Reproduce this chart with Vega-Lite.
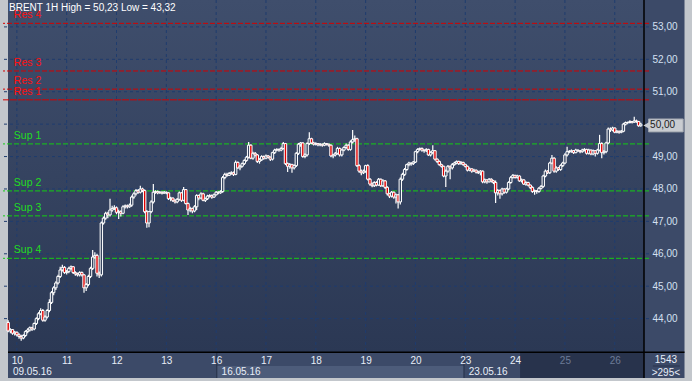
{
"$schema": "https://vega.github.io/schema/vega-lite/v6.json",
"width": 646, "height": 352,
"autosize": {"type": "none"},
"padding": {"left": 3, "right": 43, "top": 0, "bottom": 29},
"background": "#c3c7cc",
"config": {"view": {"stroke": null}, "text": {"font": "Liberation Sans"}},
"datasets": {
"candles": [
{"t":0,"o":43.88,"h":43.95,"l":43.58,"c":43.62},{"t":1,"o":43.62,"h":43.70,"l":43.55,"c":43.66},{"t":2,"o":43.66,"h":43.68,"l":43.50,"c":43.55},{"t":3,"o":43.55,"h":43.62,"l":43.48,"c":43.58},{"t":4,"o":43.58,"h":43.60,"l":43.45,"c":43.50},{"t":5,"o":43.50,"h":43.55,"l":43.38,"c":43.45},{"t":6,"o":43.45,"h":43.50,"l":43.32,"c":43.40},{"t":7,"o":43.40,"h":43.52,"l":43.36,"c":43.48},{"t":8,"o":43.48,"h":43.64,"l":43.44,"c":43.60},{"t":9,"o":43.60,"h":43.70,"l":43.55,"c":43.65},
{"t":10,"o":43.65,"h":43.76,"l":43.60,"c":43.72},{"t":11,"o":43.72,"h":43.75,"l":43.62,"c":43.68},{"t":12,"o":43.68,"h":43.88,"l":43.64,"c":43.85},{"t":13,"o":43.85,"h":44.04,"l":43.80,"c":44.00},{"t":14,"o":44.00,"h":44.20,"l":43.95,"c":44.15},{"t":15,"o":44.15,"h":44.32,"l":44.10,"c":44.25},{"t":16,"o":44.25,"h":44.30,"l":43.90,"c":43.95},{"t":17,"o":43.95,"h":44.10,"l":43.90,"c":44.05},{"t":18,"o":44.05,"h":44.30,"l":44.00,"c":44.25},{"t":19,"o":44.25,"h":44.60,"l":44.20,"c":44.50},
{"t":20,"o":44.50,"h":44.85,"l":44.45,"c":44.80},{"t":21,"o":44.80,"h":45.00,"l":44.72,"c":44.95},{"t":22,"o":44.95,"h":45.15,"l":44.88,"c":45.10},{"t":23,"o":45.10,"h":45.35,"l":45.05,"c":45.30},{"t":24,"o":45.30,"h":45.60,"l":45.25,"c":45.50},{"t":25,"o":45.50,"h":45.66,"l":45.45,"c":45.58},{"t":26,"o":45.58,"h":45.62,"l":45.38,"c":45.42},{"t":27,"o":45.42,"h":45.50,"l":45.36,"c":45.45},{"t":28,"o":45.45,"h":45.60,"l":45.40,"c":45.55},{"t":29,"o":45.55,"h":45.64,"l":45.50,"c":45.60},
{"t":30,"o":45.60,"h":45.62,"l":45.38,"c":45.42},{"t":31,"o":45.42,"h":45.46,"l":45.32,"c":45.38},{"t":32,"o":45.38,"h":45.42,"l":45.30,"c":45.35},{"t":33,"o":45.35,"h":45.46,"l":45.30,"c":45.42},{"t":34,"o":45.42,"h":45.45,"l":45.30,"c":45.35},{"t":35,"o":45.35,"h":45.38,"l":44.80,"c":44.95},{"t":36,"o":44.95,"h":45.10,"l":44.85,"c":45.05},{"t":37,"o":45.05,"h":45.35,"l":45.00,"c":45.30},{"t":38,"o":45.30,"h":45.60,"l":45.25,"c":45.55},{"t":39,"o":45.55,"h":46.12,"l":45.50,"c":45.90},
{"t":40,"o":45.90,"h":46.05,"l":45.85,"c":45.95},{"t":41,"o":45.95,"h":46.00,"l":45.30,"c":45.40},{"t":42,"o":45.40,"h":45.45,"l":45.25,"c":45.35},{"t":43,"o":45.35,"h":47.00,"l":45.30,"c":46.95},{"t":44,"o":46.95,"h":47.15,"l":46.90,"c":47.10},{"t":45,"o":47.10,"h":47.30,"l":47.05,"c":47.25},{"t":46,"o":47.25,"h":47.30,"l":47.10,"c":47.20},{"t":47,"o":47.20,"h":47.70,"l":47.15,"c":47.35},{"t":48,"o":47.35,"h":47.48,"l":47.30,"c":47.40},{"t":49,"o":47.40,"h":47.50,"l":47.35,"c":47.42},
{"t":50,"o":47.42,"h":47.46,"l":47.22,"c":47.28},{"t":51,"o":47.28,"h":47.36,"l":47.07,"c":47.30},{"t":52,"o":47.30,"h":47.34,"l":47.15,"c":47.25},{"t":53,"o":47.25,"h":47.50,"l":47.22,"c":47.45},{"t":54,"o":47.45,"h":47.52,"l":47.40,"c":47.48},{"t":55,"o":47.48,"h":47.52,"l":47.40,"c":47.45},{"t":56,"o":47.45,"h":47.55,"l":47.42,"c":47.50},{"t":57,"o":47.50,"h":47.80,"l":47.45,"c":47.75},{"t":58,"o":47.75,"h":47.90,"l":47.70,"c":47.85},{"t":59,"o":47.85,"h":48.00,"l":47.80,"c":47.95},
{"t":60,"o":47.95,"h":48.00,"l":47.85,"c":47.90},{"t":61,"o":47.90,"h":48.10,"l":47.86,"c":48.00},{"t":62,"o":48.00,"h":48.04,"l":47.90,"c":47.95},{"t":63,"o":47.95,"h":47.98,"l":47.25,"c":47.30},{"t":64,"o":47.30,"h":47.35,"l":46.80,"c":46.95},{"t":65,"o":46.95,"h":47.32,"l":46.82,"c":47.30},{"t":66,"o":47.30,"h":47.65,"l":47.25,"c":47.60},{"t":67,"o":47.60,"h":48.15,"l":47.55,"c":47.90},{"t":68,"o":47.90,"h":47.96,"l":47.85,"c":47.92},{"t":69,"o":47.92,"h":47.95,"l":47.84,"c":47.88},
{"t":70,"o":47.88,"h":47.94,"l":47.85,"c":47.90},{"t":71,"o":47.90,"h":47.93,"l":47.83,"c":47.87},{"t":72,"o":47.87,"h":47.94,"l":47.85,"c":47.90},{"t":73,"o":47.90,"h":47.92,"l":47.84,"c":47.88},{"t":74,"o":47.88,"h":47.90,"l":47.66,"c":47.70},{"t":75,"o":47.70,"h":47.76,"l":47.62,"c":47.72},{"t":76,"o":47.72,"h":47.74,"l":47.60,"c":47.65},{"t":77,"o":47.65,"h":47.68,"l":47.55,"c":47.60},{"t":78,"o":47.60,"h":47.72,"l":47.56,"c":47.68},{"t":79,"o":47.68,"h":47.92,"l":47.64,"c":47.88},
{"t":80,"o":47.88,"h":47.90,"l":47.60,"c":47.65},{"t":81,"o":47.65,"h":48.06,"l":47.62,"c":47.98},{"t":82,"o":47.98,"h":48.00,"l":47.52,"c":47.55},{"t":83,"o":47.55,"h":47.58,"l":47.20,"c":47.35},{"t":84,"o":47.35,"h":47.45,"l":47.28,"c":47.40},{"t":85,"o":47.40,"h":47.42,"l":47.25,"c":47.32},{"t":86,"o":47.32,"h":47.50,"l":47.28,"c":47.45},{"t":87,"o":47.45,"h":47.84,"l":47.35,"c":47.80},{"t":88,"o":47.80,"h":47.82,"l":47.65,"c":47.72},{"t":89,"o":47.72,"h":47.90,"l":47.68,"c":47.85},
{"t":90,"o":47.85,"h":47.88,"l":47.62,"c":47.65},{"t":91,"o":47.65,"h":47.74,"l":47.60,"c":47.70},{"t":92,"o":47.70,"h":47.82,"l":47.66,"c":47.78},{"t":93,"o":47.78,"h":47.84,"l":47.74,"c":47.80},{"t":94,"o":47.80,"h":47.83,"l":47.70,"c":47.75},{"t":95,"o":47.75,"h":47.86,"l":47.72,"c":47.82},{"t":96,"o":47.82,"h":47.94,"l":47.80,"c":47.90},{"t":97,"o":47.90,"h":47.93,"l":47.84,"c":47.88},{"t":98,"o":47.88,"h":47.96,"l":47.85,"c":47.92},{"t":99,"o":47.92,"h":48.40,"l":47.88,"c":48.35},
{"t":100,"o":48.35,"h":48.50,"l":48.30,"c":48.45},{"t":101,"o":48.45,"h":48.50,"l":48.38,"c":48.42},{"t":102,"o":48.42,"h":48.52,"l":48.40,"c":48.48},{"t":103,"o":48.48,"h":48.55,"l":48.44,"c":48.50},{"t":104,"o":48.50,"h":48.54,"l":48.40,"c":48.45},{"t":105,"o":48.45,"h":48.88,"l":48.42,"c":48.82},{"t":106,"o":48.82,"h":48.85,"l":48.62,"c":48.65},{"t":107,"o":48.65,"h":48.74,"l":48.58,"c":48.70},{"t":108,"o":48.70,"h":48.82,"l":48.66,"c":48.78},{"t":109,"o":48.78,"h":48.92,"l":48.74,"c":48.88},
{"t":110,"o":48.88,"h":49.02,"l":48.84,"c":48.98},{"t":111,"o":48.98,"h":49.45,"l":48.94,"c":49.35},{"t":112,"o":49.35,"h":49.38,"l":48.92,"c":48.95},{"t":113,"o":48.95,"h":49.15,"l":48.90,"c":49.10},{"t":114,"o":49.10,"h":49.14,"l":49.00,"c":49.05},{"t":115,"o":49.05,"h":49.08,"l":48.80,"c":48.85},{"t":116,"o":48.85,"h":48.95,"l":48.78,"c":48.90},{"t":117,"o":48.90,"h":49.04,"l":48.86,"c":49.00},{"t":118,"o":49.00,"h":49.03,"l":48.90,"c":48.95},{"t":119,"o":48.95,"h":49.06,"l":48.92,"c":49.02},
{"t":120,"o":49.02,"h":49.05,"l":48.94,"c":48.98},{"t":121,"o":48.98,"h":49.00,"l":48.86,"c":48.92},{"t":122,"o":48.92,"h":49.15,"l":48.88,"c":49.12},{"t":123,"o":49.12,"h":49.24,"l":49.08,"c":49.20},{"t":124,"o":49.20,"h":49.26,"l":49.16,"c":49.22},{"t":125,"o":49.22,"h":49.25,"l":49.15,"c":49.20},{"t":126,"o":49.20,"h":49.30,"l":49.16,"c":49.25},{"t":127,"o":49.25,"h":49.45,"l":49.22,"c":49.40},{"t":128,"o":49.40,"h":49.42,"l":48.74,"c":48.78},{"t":129,"o":48.78,"h":48.82,"l":48.52,"c":48.70},
{"t":130,"o":48.70,"h":48.80,"l":48.62,"c":48.75},{"t":131,"o":48.75,"h":48.78,"l":48.50,"c":48.65},{"t":132,"o":48.65,"h":48.76,"l":48.60,"c":48.72},{"t":133,"o":48.72,"h":49.14,"l":48.68,"c":49.10},{"t":134,"o":49.10,"h":49.42,"l":49.05,"c":49.38},{"t":135,"o":49.38,"h":49.45,"l":49.30,"c":49.42},{"t":136,"o":49.42,"h":49.44,"l":48.96,"c":49.00},{"t":137,"o":49.00,"h":49.10,"l":48.95,"c":49.05},{"t":138,"o":49.05,"h":49.44,"l":49.00,"c":49.40},{"t":139,"o":49.40,"h":49.75,"l":49.36,"c":49.55},
{"t":140,"o":49.55,"h":49.58,"l":49.38,"c":49.42},{"t":141,"o":49.42,"h":49.46,"l":49.34,"c":49.38},{"t":142,"o":49.38,"h":49.44,"l":49.34,"c":49.40},{"t":143,"o":49.40,"h":49.42,"l":49.32,"c":49.36},{"t":144,"o":49.36,"h":49.42,"l":49.32,"c":49.38},{"t":145,"o":49.38,"h":49.40,"l":49.30,"c":49.35},{"t":146,"o":49.35,"h":49.44,"l":49.32,"c":49.40},{"t":147,"o":49.40,"h":49.42,"l":49.34,"c":49.38},{"t":148,"o":49.38,"h":49.40,"l":49.30,"c":49.35},{"t":149,"o":49.35,"h":49.37,"l":48.98,"c":49.02},
{"t":150,"o":49.02,"h":49.08,"l":48.95,"c":49.05},{"t":151,"o":49.05,"h":49.14,"l":49.00,"c":49.10},{"t":152,"o":49.10,"h":49.30,"l":49.06,"c":49.25},{"t":153,"o":49.25,"h":49.28,"l":49.00,"c":49.05},{"t":154,"o":49.05,"h":49.24,"l":49.00,"c":49.20},{"t":155,"o":49.20,"h":49.32,"l":49.16,"c":49.28},{"t":156,"o":49.28,"h":49.40,"l":49.24,"c":49.35},{"t":157,"o":49.35,"h":49.38,"l":49.18,"c":49.22},{"t":158,"o":49.22,"h":49.50,"l":49.18,"c":49.45},{"t":159,"o":49.45,"h":49.82,"l":49.40,"c":49.52},
{"t":160,"o":49.52,"h":49.65,"l":49.46,"c":49.55},{"t":161,"o":49.55,"h":49.58,"l":48.68,"c":48.72},{"t":162,"o":48.72,"h":48.76,"l":48.50,"c":48.55},{"t":163,"o":48.55,"h":48.60,"l":48.42,"c":48.50},{"t":164,"o":48.50,"h":48.60,"l":48.46,"c":48.55},{"t":165,"o":48.55,"h":48.75,"l":48.50,"c":48.72},{"t":166,"o":48.72,"h":48.76,"l":48.26,"c":48.30},{"t":167,"o":48.30,"h":48.34,"l":48.10,"c":48.15},{"t":168,"o":48.15,"h":48.20,"l":48.05,"c":48.10},{"t":169,"o":48.10,"h":48.24,"l":48.06,"c":48.20},
{"t":170,"o":48.20,"h":48.24,"l":48.08,"c":48.12},{"t":171,"o":48.12,"h":48.34,"l":48.10,"c":48.30},{"t":172,"o":48.30,"h":48.32,"l":48.06,"c":48.10},{"t":173,"o":48.10,"h":48.30,"l":48.06,"c":48.25},{"t":174,"o":48.25,"h":48.28,"l":48.00,"c":48.05},{"t":175,"o":48.05,"h":48.08,"l":47.80,"c":47.85},{"t":176,"o":47.85,"h":47.88,"l":47.72,"c":47.78},{"t":177,"o":47.78,"h":47.94,"l":47.74,"c":47.90},{"t":178,"o":47.90,"h":47.92,"l":47.70,"c":47.75},{"t":179,"o":47.75,"h":47.86,"l":47.55,"c":47.82},
{"t":180,"o":47.82,"h":47.84,"l":47.40,"c":47.60},{"t":181,"o":47.60,"h":48.35,"l":47.52,"c":48.30},{"t":182,"o":48.30,"h":48.50,"l":48.25,"c":48.45},{"t":183,"o":48.45,"h":48.65,"l":48.40,"c":48.60},{"t":184,"o":48.60,"h":48.78,"l":48.56,"c":48.75},{"t":185,"o":48.75,"h":48.84,"l":48.70,"c":48.80},{"t":186,"o":48.80,"h":48.82,"l":48.72,"c":48.78},{"t":187,"o":48.78,"h":48.86,"l":48.74,"c":48.83},{"t":188,"o":48.83,"h":49.18,"l":48.80,"c":49.15},{"t":189,"o":49.15,"h":49.26,"l":49.10,"c":49.22},
{"t":190,"o":49.22,"h":49.28,"l":49.18,"c":49.25},{"t":191,"o":49.25,"h":49.28,"l":49.15,"c":49.20},{"t":192,"o":49.20,"h":49.22,"l":49.12,"c":49.18},{"t":193,"o":49.18,"h":49.26,"l":49.14,"c":49.22},{"t":194,"o":49.22,"h":49.24,"l":49.02,"c":49.05},{"t":195,"o":49.05,"h":49.16,"l":49.00,"c":49.12},{"t":196,"o":49.12,"h":49.35,"l":49.08,"c":49.18},{"t":197,"o":49.18,"h":49.20,"l":48.88,"c":48.92},{"t":198,"o":48.92,"h":48.94,"l":48.80,"c":48.85},{"t":199,"o":48.85,"h":48.88,"l":48.72,"c":48.75},
{"t":200,"o":48.75,"h":48.78,"l":48.66,"c":48.70},{"t":201,"o":48.70,"h":48.72,"l":48.36,"c":48.40},{"t":202,"o":48.40,"h":48.60,"l":48.06,"c":48.55},{"t":203,"o":48.55,"h":48.74,"l":48.50,"c":48.70},{"t":204,"o":48.70,"h":48.72,"l":48.30,"c":48.65},{"t":205,"o":48.65,"h":48.80,"l":48.60,"c":48.75},{"t":206,"o":48.75,"h":48.84,"l":48.72,"c":48.80},{"t":207,"o":48.80,"h":48.88,"l":48.76,"c":48.85},{"t":208,"o":48.85,"h":48.87,"l":48.74,"c":48.78},{"t":209,"o":48.78,"h":48.86,"l":48.75,"c":48.82},
{"t":210,"o":48.82,"h":48.84,"l":48.72,"c":48.76},{"t":211,"o":48.76,"h":48.78,"l":48.66,"c":48.70},{"t":212,"o":48.70,"h":48.72,"l":48.54,"c":48.58},{"t":213,"o":48.58,"h":48.66,"l":48.55,"c":48.62},{"t":214,"o":48.62,"h":48.64,"l":48.50,"c":48.55},{"t":215,"o":48.55,"h":48.62,"l":48.52,"c":48.58},{"t":216,"o":48.58,"h":48.60,"l":48.48,"c":48.52},{"t":217,"o":48.52,"h":48.56,"l":48.46,"c":48.50},{"t":218,"o":48.50,"h":48.58,"l":48.42,"c":48.55},{"t":219,"o":48.55,"h":48.57,"l":48.18,"c":48.22},
{"t":220,"o":48.22,"h":48.32,"l":48.18,"c":48.28},{"t":221,"o":48.28,"h":48.30,"l":48.16,"c":48.22},{"t":222,"o":48.22,"h":48.34,"l":48.20,"c":48.30},{"t":223,"o":48.30,"h":48.33,"l":48.20,"c":48.25},{"t":224,"o":48.25,"h":48.28,"l":48.15,"c":48.20},{"t":225,"o":48.20,"h":48.26,"l":47.57,"c":47.88},{"t":226,"o":47.88,"h":48.00,"l":47.80,"c":47.95},{"t":227,"o":47.95,"h":47.98,"l":47.70,"c":47.85},{"t":228,"o":47.85,"h":48.04,"l":47.80,"c":48.00},{"t":229,"o":48.00,"h":48.02,"l":47.85,"c":47.90},
{"t":230,"o":47.90,"h":48.04,"l":47.86,"c":48.00},{"t":231,"o":48.00,"h":48.24,"l":47.96,"c":48.20},{"t":232,"o":48.20,"h":48.40,"l":48.16,"c":48.35},{"t":233,"o":48.35,"h":48.46,"l":48.32,"c":48.42},{"t":234,"o":48.42,"h":48.44,"l":48.32,"c":48.35},{"t":235,"o":48.35,"h":48.44,"l":48.32,"c":48.40},{"t":236,"o":48.40,"h":48.42,"l":48.22,"c":48.25},{"t":237,"o":48.25,"h":48.32,"l":48.20,"c":48.28},{"t":238,"o":48.28,"h":48.30,"l":48.12,"c":48.15},{"t":239,"o":48.15,"h":48.24,"l":48.10,"c":48.20},
{"t":240,"o":48.20,"h":48.22,"l":48.08,"c":48.12},{"t":241,"o":48.12,"h":48.14,"l":48.00,"c":48.05},{"t":242,"o":48.05,"h":48.08,"l":47.88,"c":47.92},{"t":243,"o":47.92,"h":47.98,"l":47.82,"c":47.95},{"t":244,"o":47.95,"h":47.97,"l":47.85,"c":47.92},{"t":245,"o":47.92,"h":48.06,"l":47.88,"c":48.02},{"t":246,"o":48.02,"h":48.12,"l":47.98,"c":48.08},{"t":247,"o":48.08,"h":48.44,"l":48.04,"c":48.40},{"t":248,"o":48.40,"h":48.60,"l":48.36,"c":48.55},{"t":249,"o":48.55,"h":48.58,"l":48.46,"c":48.50},
{"t":250,"o":48.50,"h":48.84,"l":48.46,"c":48.80},{"t":251,"o":48.80,"h":49.05,"l":48.76,"c":48.95},{"t":252,"o":48.95,"h":48.98,"l":48.50,"c":48.55},{"t":253,"o":48.55,"h":48.70,"l":48.50,"c":48.65},{"t":254,"o":48.65,"h":48.68,"l":48.56,"c":48.60},{"t":255,"o":48.60,"h":48.76,"l":48.56,"c":48.72},{"t":256,"o":48.72,"h":48.84,"l":48.68,"c":48.80},{"t":257,"o":48.80,"h":49.10,"l":48.76,"c":49.05},{"t":258,"o":49.05,"h":49.30,"l":49.00,"c":49.15},{"t":259,"o":49.15,"h":49.20,"l":49.10,"c":49.15},
{"t":260,"o":49.15,"h":49.22,"l":49.12,"c":49.18},{"t":261,"o":49.18,"h":49.20,"l":49.08,"c":49.12},{"t":262,"o":49.12,"h":49.24,"l":49.10,"c":49.20},{"t":263,"o":49.20,"h":49.22,"l":49.14,"c":49.18},{"t":264,"o":49.18,"h":49.20,"l":49.10,"c":49.15},{"t":265,"o":49.15,"h":49.24,"l":49.12,"c":49.20},{"t":266,"o":49.20,"h":49.26,"l":49.16,"c":49.22},{"t":267,"o":49.22,"h":49.24,"l":49.06,"c":49.10},{"t":268,"o":49.10,"h":49.24,"l":49.06,"c":49.20},{"t":269,"o":49.20,"h":49.22,"l":49.04,"c":49.08},
{"t":270,"o":49.08,"h":49.22,"l":49.04,"c":49.18},{"t":271,"o":49.18,"h":49.20,"l":49.00,"c":49.10},{"t":272,"o":49.10,"h":49.24,"l":49.06,"c":49.20},{"t":273,"o":49.20,"h":49.67,"l":49.16,"c":49.40},{"t":274,"o":49.40,"h":49.44,"l":48.95,"c":49.12},{"t":275,"o":49.12,"h":49.20,"l":49.06,"c":49.15},{"t":276,"o":49.15,"h":49.46,"l":49.10,"c":49.42},{"t":277,"o":49.42,"h":49.90,"l":49.38,"c":49.85},{"t":278,"o":49.85,"h":49.90,"l":49.76,"c":49.82},{"t":279,"o":49.82,"h":49.92,"l":49.78,"c":49.88},
{"t":280,"o":49.88,"h":49.90,"l":49.72,"c":49.75},{"t":281,"o":49.75,"h":49.82,"l":49.72,"c":49.78},{"t":282,"o":49.78,"h":49.80,"l":49.70,"c":49.75},{"t":283,"o":49.75,"h":49.82,"l":49.72,"c":49.78},{"t":284,"o":49.78,"h":50.04,"l":49.75,"c":50.00},{"t":285,"o":50.00,"h":50.08,"l":49.96,"c":50.05},{"t":286,"o":50.05,"h":50.08,"l":50.00,"c":50.05},{"t":287,"o":50.05,"h":50.12,"l":50.02,"c":50.08},{"t":288,"o":50.08,"h":50.10,"l":50.02,"c":50.06},{"t":289,"o":50.06,"h":50.23,"l":50.04,"c":50.10},
{"t":290,"o":50.10,"h":50.14,"l":50.04,"c":50.08},{"t":291,"o":50.08,"h":50.10,"l":49.92,"c":49.95},{"t":292,"o":49.95,"h":50.04,"l":49.92,"c":50.00}
],
"gridY": [{"p":44},{"p":45},{"p":46},{"p":47},{"p":48},{"p":49},{"p":50},{"p":51},{"p":52},{"p":53}],
"gridX": [{"t":4},{"t":27},{"t":50},{"t":73},{"t":96},{"t":119},{"t":142},{"t":165},{"t":188},{"t":211},{"t":234},{"t":257},{"t":280}],
"levels": [
{"name":"Res 4","p":53.11,"k":"r"},{"name":"Res 3","p":51.64,"k":"r"},{"name":"Res 2","p":51.08,"k":"r"},{"name":"Res 1","p":50.75,"k":"r1"},
{"name":"Sup 1","p":49.39,"k":"s"},{"name":"Sup 2","p":47.94,"k":"s"},{"name":"Sup 3","p":47.17,"k":"s"},{"name":"Sup 4","p":45.86,"k":"s"}
],
"dates": [{"t":2.2,"label":"09.05.16"},{"t":98.5,"label":"16.05.16"},{"t":212.6,"label":"23.05.16"}]
},
"layer": [
{"data": {"values": [{}]}, "mark": {"type": "rect", "color": "#3c4a68"},
 "encoding": {"x": {"datum": -0.09, "type": "quantitative"}, "x2": {"datum": 312.2}, "y": {"datum": 53.83, "type": "quantitative"}, "y2": {"datum": 42.168}}},
{"data": {"values": [{}]}, "mark": {"type": "rect", "color": {"gradient": "linear", "x1": 0, "y1": 0, "x2": 0, "y2": 1, "stops": [{"offset": 0, "color": "#3f4e6c"}, {"offset": 1, "color": "#2b3854"}]}},
 "encoding": {"x": {"datum": -0.09, "type": "quantitative"}, "x2": {"datum": 293.5}, "y": {"datum": 53.83, "type": "quantitative"}, "y2": {"datum": 42.97}}},
{"data": {"values": [{}]}, "mark": {"type": "rect", "color": "#4d5c7a"},
 "encoding": {"x": {"datum": 96.3, "type": "quantitative"}, "x2": {"datum": 210.4}, "y": {"datum": 42.538, "type": "quantitative"}, "y2": {"datum": 42.168}}},
{"data": {"values": [{}]}, "mark": {"type": "rect", "color": "#28334c"},
 "encoding": {"x": {"datum": 236.3, "type": "quantitative"}, "x2": {"datum": 293.5}, "y": {"datum": 42.94, "type": "quantitative"}, "y2": {"datum": 42.168}}},
{"data": {"values": [{"t": 96.3}, {"t": 210.4}]}, "mark": {"type": "rule", "color": "#252f46", "strokeWidth": 1},
 "encoding": {"x": {"field": "t", "type": "quantitative"}, "y": {"datum": 42.97, "type": "quantitative"}, "y2": {"datum": 42.168}}},
{"data": {"name": "gridY"}, "mark": {"type": "rule", "color": "#1f3c6e", "strokeWidth": 1, "strokeDash": [3, 3]},
 "encoding": {"y": {"field": "p", "type": "quantitative"}}},
{"data": {"name": "gridX"}, "mark": {"type": "rule", "color": "#1f3c6e", "strokeWidth": 1, "strokeDash": [3, 3]},
 "encoding": {"x": {"field": "t", "type": "quantitative"}}},
{"data": {"name": "levels"}, "mark": {"type": "rule", "strokeWidth": 1},
 "encoding": {"y": {"field": "p", "type": "quantitative"},
  "color": {"condition": {"test": "datum.k == 's'", "value": "#14cc14"}, "value": "#d40000"},
  "strokeDash": {"condition": {"test": "datum.k == 'r1'", "value": [7, 1]}, "value": [5, 2]}}},
{"data": {"name": "levels"}, "mark": {"type": "text", "align": "left", "baseline": "bottom", "dy": -3, "fontSize": 10.5},
 "encoding": {"x": {"datum": 2.6, "type": "quantitative"}, "y": {"field": "p", "type": "quantitative"}, "text": {"field": "name"}, "color": {"condition": {"test": "datum.k == 's'", "value": "#22dd22"}, "value": "#ff1010"}}},
{"data": {"name": "candles"}, "mark": {"type": "rule", "color": "#ffffff", "strokeWidth": 1.2},
 "encoding": {
  "x": {"field": "t", "type": "quantitative", "scale": {"domain": [-0.09, 293.5], "nice": false, "zero": false},
        "axis": {"orient": "bottom", "values": [4, 27, 50, 73, 96, 119, 142, 165, 188, 211, 234, 257, 280],
                 "labelExpr": "['10','11','12','13','16','17','18','19','20','23','24','25','26'][round((datum.value-4)/23)]",
                 "grid": false, "ticks": false, "domain": false, "labelPadding": 3, "labelBaseline": "top", "labelFlush": false, "labelOverlap": false,
                 "labelFont": "Liberation Sans", "labelFontSize": 10,
                 "labelColor": {"condition": {"test": "datum.value > 250", "value": "#6d7b98"}, "value": "#e8eef8"},
                 "title": null, "zindex": 1}},
  "y": {"field": "l", "type": "quantitative", "scale": {"domain": [42.97, 53.83], "nice": false, "zero": false},
        "axis": {"orient": "right", "values": [44, 45, 46, 47, 48, 49, 51, 52, 53],
                 "labelExpr": "replace(format(datum.value, '.2f'), '.', ',')",
                 "grid": false, "ticks": false, "domain": false, "labelPadding": 3, "labelFont": "Liberation Sans", "labelFontSize": 10,
                 "labelColor": "#d4e0f2", "title": null, "zindex": 1}},
  "y2": {"field": "h"}}},
{"data": {"name": "candles"}, "mark": {"type": "bar", "width": 2.4, "stroke": "#ffffff", "strokeWidth": 1},
 "encoding": {"x": {"field": "t", "type": "quantitative"}, "y": {"field": "o", "type": "quantitative"}, "y2": {"field": "c"},
  "fill": {"condition": {"test": "datum.c < datum.o", "value": "#e00000"}, "value": "#374560"}}},
{"data": {"values": [{}]}, "mark": {"type": "rule", "color": "#000000", "strokeWidth": 1.5},
 "encoding": {"x": {"datum": 293.5, "type": "quantitative"}, "y": {"datum": 53.83, "type": "quantitative"}, "y2": {"datum": 42.168}}},
{"data": {"values": [{}]}, "mark": {"type": "rule", "color": "#000000", "strokeWidth": 1.5},
 "encoding": {"x": {"datum": -0.09, "type": "quantitative"}, "x2": {"datum": 312.2}, "y": {"datum": 42.96, "type": "quantitative"}}},
{"data": {"values": [{}]}, "mark": {"type": "rect", "color": "#c9ccd1", "stroke": "#9ea4ad", "strokeWidth": 1},
 "encoding": {"x": {"datum": 295.6, "type": "quantitative"}, "x2": {"datum": 311.6}, "y": {"datum": 50.16, "type": "quantitative"}, "y2": {"datum": 49.76}}},
{"data": {"values": [{}]}, "mark": {"type": "point", "shape": "triangle-left", "filled": true, "size": 70, "color": "#c9ccd1", "opacity": 1},
 "encoding": {"x": {"datum": 294.9, "type": "quantitative"}, "y": {"datum": 49.96, "type": "quantitative"}}},
{"data": {"values": [{"v": "50,00"}]}, "mark": {"type": "text", "align": "left", "baseline": "middle", "fontSize": 10, "color": "#1c1c1c"},
 "encoding": {"x": {"datum": 296.3, "type": "quantitative"}, "y": {"datum": 49.96, "type": "quantitative"}, "text": {"field": "v"}}},
{"data": {"name": "dates"}, "mark": {"type": "text", "align": "left", "baseline": "middle", "fontSize": 10, "color": "#e8eef8"},
 "encoding": {"x": {"field": "t", "type": "quantitative"}, "y": {"datum": 42.35, "type": "quantitative"}, "text": {"field": "label"}}},
{"data": {"values": [{"v": "1543", "p": 42.72}, {"v": ">295<", "p": 42.32}]}, "mark": {"type": "text", "align": "center", "baseline": "middle", "fontSize": 10, "color": "#e8eef8"},
 "encoding": {"x": {"datum": 303.6, "type": "quantitative"}, "y": {"field": "p", "type": "quantitative"}, "text": {"field": "v"}}},
{"data": {"values": [{}]}, "mark": {"type": "rule", "color": "#28334c", "strokeWidth": 1},
 "encoding": {"x": {"datum": 297.6, "type": "quantitative"}, "x2": {"datum": 310.0}, "y": {"datum": 42.538, "type": "quantitative"}}},
{"data": {"values": [{"v": "BRENT 1H High = 50,23 Low = 43,32"}]}, "mark": {"type": "text", "align": "left", "baseline": "middle", "fontSize": 10, "color": "#ffffff"},
 "encoding": {"x": {"datum": 0.4, "type": "quantitative"}, "y": {"datum": 53.58, "type": "quantitative"}, "text": {"field": "v"}}}
]
}
